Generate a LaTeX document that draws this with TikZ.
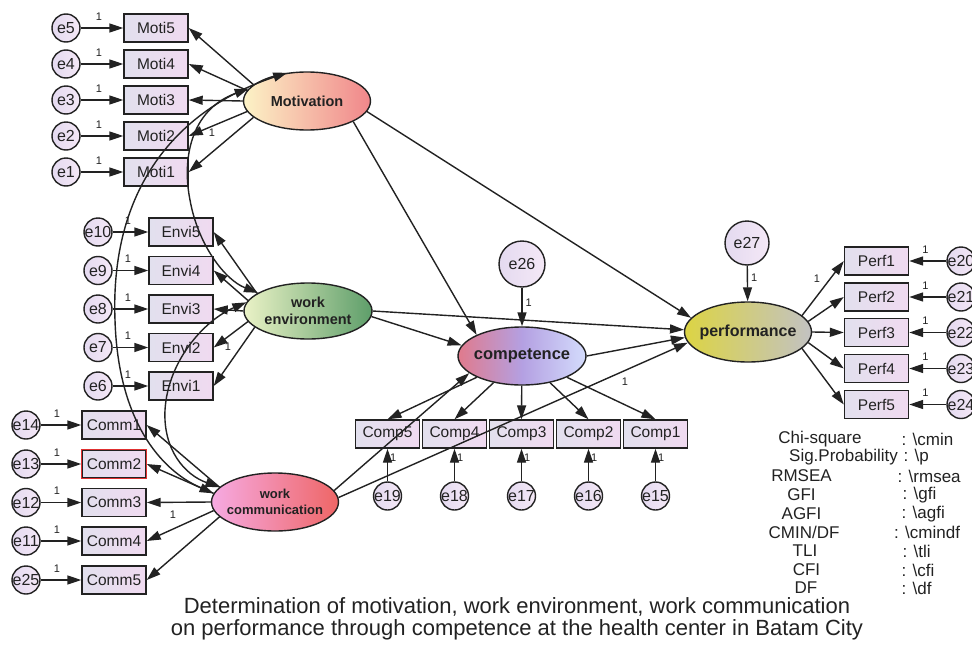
\documentclass[tikz,border=0pt]{standalone}
\usepackage{fontspec}
\setmainfont{Liberation Sans}
\usetikzlibrary{arrows.meta, shapes.geometric}
\definecolor{ink}{HTML}{222222}
\definecolor{obsl}{HTML}{E2E0EE}
\definecolor{obsr}{HTML}{F0DAF0}
\definecolor{errl}{HTML}{E4DAF0}
\definecolor{errr}{HTML}{F4E8F6}
\definecolor{motl}{HTML}{FCF3C6}
\definecolor{motr}{HTML}{F0868A}
\definecolor{envl}{HTML}{EAF2C6}
\definecolor{envr}{HTML}{5E9E6A}
\definecolor{coml}{HTML}{F6AAE2}
\definecolor{comr}{HTML}{EE6666}
\definecolor{cptl}{HTML}{E07A8C}
\definecolor{cptm}{HTML}{B4A0E2}
\definecolor{cptr}{HTML}{D4DCFC}
\definecolor{prfl}{HTML}{DCD444}
\definecolor{prfr}{HTML}{C2C2C2}
\definecolor{redline}{HTML}{E03030}

\tikzset{
  obs/.style={draw=ink, left color=obsl, right color=obsr, minimum width=64pt,
    minimum height=28pt, inner sep=0pt, text=ink, font=\fontsize{15.5}{16}\selectfont},
  err/.style={circle, draw=ink, left color=errl, right color=errr, minimum size=28pt,
    inner sep=0pt, text=ink, font=\fontsize{16}{16}\selectfont},
  lat/.style={ellipse, draw=ink, inner sep=0pt, align=center, text=ink},
  one/.style={font=\fontsize{11}{11}\selectfont, inner sep=0pt, text=ink},
  reg/.style={->, ink},
  cov/.style={<->, ink},
  gof/.style={font=\fontsize{17}{17}\selectfont, inner sep=0pt, text=ink}
}

\begin{document}
\begin{tikzpicture}[x=1pt, y=-1pt, >={Triangle[length=14pt, width=9pt]}, line width=1.4pt]

% Canvas
\path[use as bounding box, clip] (0,0) rectangle (972,648);
\fill[white] (0,0) rectangle (972,648);

% --- Latent variables ---
\node[lat, minimum width=127pt, minimum height=58pt, left color=motl, right color=motr,
  font=\bfseries\fontsize{14.5}{15}\selectfont] (mot) at (307,101) {\makebox[0pt]{Motivation}};
\node[lat, minimum width=128pt, minimum height=56pt, left color=envl, right color=envr,
  font=\bfseries\fontsize{14.5}{17}\selectfont] (env) at (308,311)
  {\makebox[0pt]{work}\\\makebox[0pt]{environment}};
\node[lat, minimum width=127pt, minimum height=58pt, left color=coml, right color=comr,
  font=\bfseries\fontsize{13}{16}\selectfont] (com) at (275,502)
  {\makebox[0pt]{work}\\\makebox[0pt]{communication}};
\node[lat, minimum width=128pt, minimum height=58pt, left color=cptl, right color=cptr,
  middle color=cptm, font=\bfseries\fontsize{16.5}{17}\selectfont] (cpt) at (522,356)
  {\makebox[0pt]{competence}};
\node[lat, minimum width=127pt, minimum height=60pt, left color=prfl, right color=prfr,
  font=\bfseries\fontsize{16}{17}\selectfont] (prf) at (748,332) {\makebox[0pt]{performance}};

% Disturbances
\node[err, minimum size=46pt] (e26) at (522,264) {\makebox[0pt]{e26}};
\node[err, minimum size=44pt] (e27) at (747,243) {\makebox[0pt]{e27}};

% --- Indicators ---
\foreach \i/\y/\a in {5/28/163, 4/64/170, 3/100/180, 2/136/190, 1/172/197} {
  \node[obs] (moti\i) at (156,\y) {Moti\i};
  \node[err] (e\i) at (66,\y) {\makebox[0pt]{e\i}};
  \draw[reg] (e\i) -- node[one, pos=0.43, above=7pt] (a\i) {1} (moti\i);
  \draw[reg] (mot.\a) -- (moti\i.east);
}
\foreach \i/\e/\y/\a in {5/10/232/161, 4/9/270.5/170, 3/8/309/180, 2/7/347.5/190, 1/6/386/197} {
  \node[obs] (envi\i) at (181,\y) {Envi\i};
  \node[err] (e\e) at (98,\y) {\makebox[0pt]{e\e}};
  \draw[reg] (e\e) -- node[one, pos=0.43, above=7pt] (a\e) {1} (envi\i);
  \draw[reg] (env.\a) -- (envi\i.east);
}
\foreach \i/\e/\y/\a in {1/14/425/165, 2/13/464/172, 3/12/502.5/180, 4/11/541/188, 5/25/580/195} {
  \node[obs] (comm\i) at (114,\y) {Comm\i};
  \node[err] (e\e) at (26,\y) {\makebox[0pt]{e\e}};
  \draw[reg] (e\e) -- node[one, pos=0.4, above=7pt] (a\e) {1} (comm\i);
  \draw[reg] (com.\a) -- (comm\i.east);
}
\draw[redline, line width=1.4pt] (comm2.south west) rectangle (comm2.north east);
\foreach \i/\e/\x in {5/19/387.5, 4/18/454.5, 3/17/521.5, 2/16/588.5, 1/15/655.5} {
  \node[obs] (comp\i) at (\x,434) {Comp\i};
  \node[err] (e\e) at (\x,496) {\makebox[0pt]{e\e}};
  \draw[reg] (e\e) -- node[one, pos=0.72, right=2pt] (a\e) {1} (comp\i);
  \draw[reg] (cpt) -- (comp\i.north);
}
\foreach \i/\e/\y/\a in {1/20/261/17, 2/21/297/10, 3/22/332.5/0, 4/23/368.5/350, 5/24/404.5/343} {
  \node[obs] (perf\i) at (876.5,\y) {Perf\i};
  \node[err] (e\e) at (961,\y) {\makebox[0pt]{e\e}};
  \draw[reg] (e\e) -- node[one, pos=0.56, above=7pt] (a\e) {1} (perf\i);
  \draw[reg] (prf.\a) -- (perf\i.west);
}

% Fixed loadings
\node[one] (fix1) at (212,133) {1};
\node[one] (fix2) at (228,347) {1};
\node[one] (fix3) at (173,515) {1};
\node[one] (fix4) at (625,382) {1};
\node[one] (fix5) at (817,279) {1};

% --- Structural paths ---
\draw[reg] (mot.336) -- (cpt.155);
\draw[reg] (mot.350) -- (prf.166);
\draw[reg] (env.355) -- (cpt.170);
\draw[reg] (env.0) -- (prf.178);
\draw[reg] (cpt.0) -- (prf.185);
\draw[reg] (com.11) -- (cpt.198);
\draw[reg] (com.4) -- (prf.190);
\draw[reg] (e26) -- node[one, pos=0.4, right=3pt] (a26) {1} (cpt);
\draw[reg] (e27) -- node[one, pos=0.35, right=3pt] (a27) {1} (prf);

% --- Covariances ---
\draw[cov] (mot.125) .. controls (175,110) and (110,190) .. (115,320)
  .. controls (118,420) and (160,470) .. (com.172);
\draw[cov] (mot.168) .. controls (190,110) and (182,160) .. (190,200)
  .. controls (198,245) and (225,280) .. (env.160);
\draw[cov] (env.172) .. controls (205,320) and (168,360) .. (165,410)
  .. controls (163,450) and (185,475) .. (com.165);

% --- Fit indices ---
\foreach \n/\lab/\lx/\vx/\val/\y in {1/Chi-square/820/901/cmin/439,
    2/Sig.Probability/843.5/903/p/457, 3/RMSEA/801.5/897/rmsea/476,
    4/GFI/801.5/902/gfi/495, 5/AGFI/801.5/901/agfi/514,
    6/{CMIN/DF}/804/893.5/cmindf/532, 7/TLI/805/902/tli/551,
    8/CFI/806.5/901/cfi/570, 9/DF/806/901/df/588} {
  \node[gof] (gl\n) at (\lx,\y) {\lab};
  \node[gof, anchor=west] (gv\n) at (\vx,\y) {: \textbackslash\val};
}

% Caption
\node[font=\fontsize{22}{22}\selectfont, align=center, text=ink, inner sep=0pt] (cap) at (517,619)
  {Determination of motivation, work environment, work communication\\
   on performance through competence at the health center in Batam City};

\end{tikzpicture}
\end{document}
